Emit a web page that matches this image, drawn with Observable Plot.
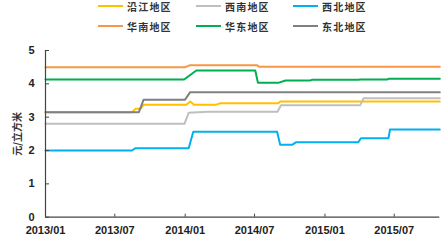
<!DOCTYPE html>
<html><head><meta charset="utf-8">
<script src="https://cdn.jsdelivr.net/npm/d3@7"></script>
<script src="https://cdn.jsdelivr.net/npm/@observablehq/plot@0.6"></script>
<style>
body{margin:0;background:#fff;width:446px;height:241px;overflow:hidden;}
#legend{position:relative;height:40px;width:446px;font-family:"Noto Sans CJK SC",sans-serif;font-size:10px;color:#333;}
.item{position:absolute;display:flex;align-items:center;height:14px;}
.sw{width:25px;height:2px;margin-right:4px;}
.lab{letter-spacing:1.2px;font-weight:bold;}
</style></head>
<body><div id="legend"></div><div id="chart"></div>
<script>
const seriesNames = ["沿江地区","西南地区","西北地区","华南地区","华东地区","东北地区"];
const seriesColors = ["#FFC000","#BFBFBF","#00B0F0","#F79646","#00B050","#808080"];

const yanjiangDates = ["2013-01-01","2013-08-15","2013-08-24","2013-09-06","2013-09-14","2014-01-04","2014-01-14","2014-01-24","2014-03-21","2014-04-03","2014-09-01","2014-09-07","2015-10-28"];
const yanjiangValues = [3.15,3.15,3.25,3.25,3.37,3.37,3.47,3.37,3.37,3.42,3.42,3.47,3.47];

const xinanDates = ["2013-01-01","2013-12-30","2014-01-10","2014-03-01","2014-08-30","2014-09-08","2015-04-03","2015-04-12","2015-10-28"];
const xinanValues = [2.80,2.80,3.13,3.16,3.16,3.36,3.36,3.57,3.57];

const xibeiDates = ["2013-01-01","2013-08-15","2013-08-24","2014-01-10","2014-01-22","2014-08-29","2014-09-06","2014-10-07","2014-10-18","2015-03-29","2015-04-05","2015-06-16","2015-06-20","2015-10-28"];
const xibeiValues = [2.00,2.00,2.07,2.07,2.56,2.56,2.17,2.17,2.25,2.25,2.37,2.37,2.63,2.63];

const huananDates = ["2013-01-01","2014-01-01","2014-01-14","2014-07-08","2014-07-13","2015-10-28"];
const huananValues = [4.50,4.50,4.56,4.56,4.51,4.51];

const huadongDates = ["2013-01-01","2013-12-29","2014-01-30","2014-07-03","2014-07-10","2014-09-01","2014-09-20","2014-11-23","2014-11-28","2015-03-29","2015-04-03","2015-06-12","2015-06-16","2015-10-28"];
const huadongValues = [4.13,4.13,4.40,4.40,4.03,4.03,4.10,4.10,4.12,4.12,4.13,4.13,4.15,4.15];

const dongbeiDates = ["2013-01-01","2013-09-02","2013-09-14","2013-12-31","2014-01-14","2015-10-28"];
const dongbeiValues = [3.15,3.15,3.52,3.52,3.75,3.75];

const xTicks = ["2013-01-01","2013-07-01","2014-01-01","2014-07-01","2015-01-01","2015-07-01"];
const yTicks = [0,1,2,3,4,5];
const yLabel = "元/立方米";

const allDates = [yanjiangDates,xinanDates,xibeiDates,huananDates,huadongDates,dongbeiDates];
const allValues = [yanjiangValues,xinanValues,xibeiValues,huananValues,huadongValues,dongbeiValues];

const rows = [];
seriesNames.forEach((name,i)=>{
  allDates[i].forEach((d,j)=>rows.push({series:name, date:new Date(d+"T00:00:00Z"), value:allValues[i][j]}));
});

// legend
const legendPos = [[98,-1],[196,-1],[293,-1],[98,19],[196,19],[293,19]];
const leg = document.getElementById("legend");
seriesNames.forEach((n,i)=>{
  const it = document.createElement("div");
  it.className="item";
  it.style.left=legendPos[i][0]+"px";
  it.style.top=legendPos[i][1]+"px";
  it.innerHTML=`<div class="sw" style="background:${seriesColors[i]}"></div><span class="lab">${n}</span>`;
  leg.appendChild(it);
});

const W=446,H=201,mt=10,mb=24.3,ml=45,mr=6.7;
const xDomain=[new Date("2013-01-01T00:00:00Z"), new Date("2015-10-28T00:00:00Z")];
const xTickDates = xTicks.map(d=>new Date(d+"T00:00:00Z"));
const chart = Plot.plot({
  width:W, height:H, marginTop:mt, marginBottom:mb, marginLeft:ml, marginRight:mr,
  style:{fontFamily:"'Liberation Sans', Arial, sans-serif", fontSize:"11px", fontWeight:"bold", color:"#333", background:"#fff"},
  x:{type:"utc", domain:xDomain},
  y:{domain:[0,5]},
  color:{domain:seriesNames, range:seriesColors},
  marks:[
    Plot.axisY(yTicks,{tickSize:0, tickPadding:11, label:null, fontWeight:"bold", fill:"#222"}),
    Plot.axisX(xTickDates,{tickSize:0, tickPadding:9, label:null, tickFormat:d3.utcFormat("%Y/%m"), fontWeight:"bold", fill:"#222"}),
    Plot.line(rows,{x:"date", y:"value", z:"series", stroke:"series", strokeWidth:2}),
    Plot.tickY(yTicks,{y:d=>d, insetRight:W-ml-mr-4, stroke:"#444"}),
    Plot.tickX(xTickDates,{x:d=>d, insetTop:H-mt-mb-3, stroke:"#444"}),
    Plot.ruleY([0],{stroke:"#444", strokeWidth:1.2}),
    Plot.ruleX([xDomain[0]],{stroke:"#444", strokeWidth:1.2}),
    Plot.text([yLabel],{frameAnchor:"left", textAnchor:"middle", dx:-28, rotate:-90, fontFamily:"'Noto Sans CJK SC', sans-serif", fontSize:10, fontWeight:"bold", fill:"#333"})
  ]
});
document.getElementById("chart").appendChild(chart);
</script></body></html>
